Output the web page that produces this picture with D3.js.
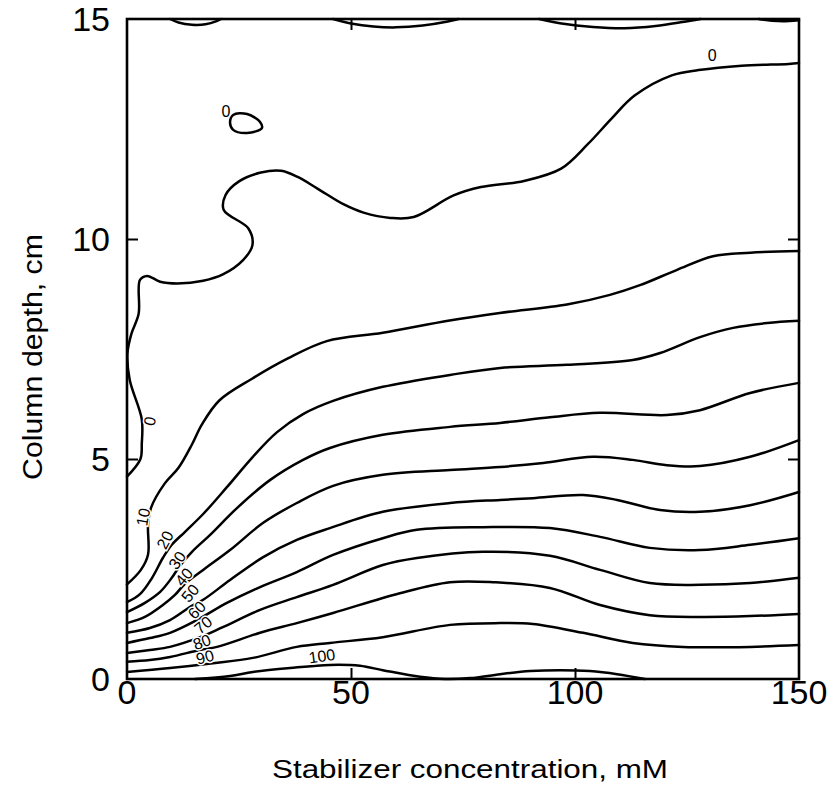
<!DOCTYPE html>
<html>
<head>
<meta charset="utf-8">
<script src="https://cdn.jsdelivr.net/npm/d3@7"></script>
<style>
  html, body { margin: 0; padding: 0; background: #fff; }
  svg { display: block; }
</style>
</head>
<body>
<svg id="chart" width="838" height="788"></svg>
<script>
// ---- Data (x: stabilizer concentration mM, y: column depth cm) ----
const xTicks = [0, 50, 100, 150];
const yTicks = [0, 5, 10, 15];
const xTitle = "Stabilizer concentration, mM";
const yTitle = "Column depth, cm";

const levels = [0, 10, 20, 30, 40, 50, 60, 70, 80, 90, 100];

const c0 = [[0,4.6],[3.0,5.0],[3.3,5.35],[3.3,5.9],[0.6,6.8],[0.1,7.4],[1.0,7.85],[2.6,8.3],[2.9,9.07],[4.5,9.16],[7.4,9.03],[11.2,8.99],[17.0,9.05],[21.5,9.2],[25.9,9.52],[28.0,9.86],[27.1,10.24],[21.6,10.66],[22.0,11.0],[25.0,11.31],[29.9,11.51],[34.4,11.55],[38.1,11.41],[42.6,11.14],[48.3,10.79],[52.8,10.6],[58.8,10.48],[64.0,10.5],[72.9,10.99],[79.0,11.18],[88.6,11.32],[96.9,11.6],[102.9,12.16],[108.1,12.73],[113.3,13.26],[121.6,13.72],[127.6,13.84],[137.2,13.94],[147.7,13.98],[150,14.0]];
const c0island = [[23.7,12.82],[26.8,12.84],[29.7,12.66],[30.1,12.52],[26.8,12.41],[23.7,12.48],[23.0,12.64]];
const c0top1 = [[9.6,15],[11.5,14.92],[14.5,14.87],[17.5,14.88],[20,14.95],[21,15]];
const c0top2 = [[46,15],[50,14.9],[55,14.83],[60,14.81],[66,14.85],[71,14.93],[74,15]];
const c0top3 = [[92,15],[97,14.9],[104,14.82],[111,14.79],[118,14.84],[124,14.93],[128,15]];
const c0top4 = [[141,15],[144,14.96],[147,14.95],[150,14.97]];
const c10 = [[0,2.15],[3.1,2.48],[4.7,2.83],[4.7,3.51],[5.4,3.9],[8.4,4.44],[11.5,4.8],[14.5,5.33],[16.7,5.78],[20.6,6.33],[28.0,6.83],[35.8,7.28],[44.6,7.68],[57.1,7.87],[72.0,8.15],[83.2,8.32],[98.2,8.51],[107.8,8.73],[114.5,8.95],[122.8,9.3],[130.8,9.61],[139.1,9.69],[150,9.73]];
const c20 = [[0,1.75],[2.9,1.93],[5.6,2.30],[8.0,2.75],[10.0,3.05],[12.9,3.34],[17.0,3.75],[22.3,4.36],[28.1,5.05],[33.5,5.61],[39.3,6.02],[46.0,6.32],[57.1,6.64],[72.1,6.91],[83.3,7.07],[98.2,7.14],[112.9,7.25],[119.0,7.41],[127.9,7.77],[135.3,7.98],[142.9,8.09],[150,8.14]];
const c30 = [[0,1.52],[4.0,1.73],[7.4,1.98],[10.0,2.30],[11.8,2.57],[14.5,2.89],[18.5,3.27],[24.6,3.89],[31.9,4.52],[39.3,4.98],[45.3,5.25],[57.1,5.55],[72.1,5.73],[83.3,5.82],[94.4,5.95],[105.6,6.05],[120.5,6.0],[127.9,6.11],[139.1,6.5],[150,6.73]];
const c40 = [[0,1.27],[4.0,1.41],[8.0,1.68],[10.7,1.91],[12.9,2.16],[17.0,2.48],[23.0,2.93],[30.4,3.55],[37.9,4.0],[46.0,4.39],[57.1,4.64],[72.1,4.75],[83.3,4.82],[92.9,4.91],[104.0,5.05],[112.9,4.98],[120.5,4.86],[127.9,4.84],[139.1,5.05],[150,5.43]];
const c50 = [[0,1.05],[5.1,1.16],[9.6,1.34],[14.1,1.64],[17.0,1.80],[23.0,2.25],[30.4,2.77],[37.9,3.16],[45.3,3.43],[57.1,3.80],[72.1,4.0],[83.3,4.07],[90.6,4.11],[101.8,4.18],[109.4,4.07],[119.0,3.84],[127.9,3.80],[139.1,3.95],[150,4.25]];
const c60 = [[0,0.82],[5.1,0.93],[9.6,1.05],[15.6,1.34],[22.3,1.73],[29.7,2.09],[37.9,2.43],[46.0,2.82],[57.1,3.20],[64.7,3.39],[79.5,3.45],[94.4,3.43],[105.6,3.23],[116.7,2.98],[127.9,2.93],[139.1,3.05],[150,3.20]];
const c70 = [[0,0.59],[5.1,0.66],[9.6,0.73],[16.3,0.95],[21.4,1.18],[29.7,1.57],[37.9,1.86],[46.0,2.14],[57.1,2.59],[64.7,2.75],[79.5,2.89],[94.4,2.80],[105.6,2.48],[116.7,2.18],[127.9,2.14],[139.1,2.18],[150,2.30]];
const c80 = [[0,0.39],[5.1,0.43],[9.6,0.50],[16.3,0.66],[20.1,0.73],[29.7,1.05],[37.9,1.27],[46.0,1.50],[60.9,1.95],[72.1,2.20],[81.7,2.20],[94.4,2.07],[105.6,1.68],[116.7,1.45],[127.9,1.41],[139.1,1.43],[150,1.48]];
const c90 = [[0,0.16],[9.6,0.25],[19.2,0.36],[28.1,0.48],[37.9,0.73],[45.3,0.82],[57.1,0.95],[72.1,1.23],[83.3,1.27],[90.6,1.25],[101.8,1.05],[112.9,0.82],[124.1,0.73],[139.1,0.73],[150,0.77]];
const c100 = [[15.2,0],[23.0,0.07],[28.1,0.16],[36.4,0.25],[45.3,0.32],[52.0,0.30],[57.1,0.20],[65.4,0.05],[71.0,0],[76.6,0.02],[83.3,0.11],[90.0,0.18],[96.7,0.20],[103.3,0.18],[109.4,0.11],[115.6,0]];

const openContours = [c0, c0top1, c0top2, c0top3, c0top4, c10, c20, c30, c40, c50, c60, c70, c80, c90, c100];
const closedContours = [c0island];

// contour labels
const labelX = [5.1, 22.1, 130.6, 3.6, 8.5, 11.2, 12.7, 14.1, 15.6, 17.0, 16.7, 17.4, 43.5];
const labelY = [5.86, 12.89, 14.18, 3.68, 3.16, 2.70, 2.32, 1.95, 1.57, 1.23, 0.84, 0.50, 0.52];
const labelText = ["0", "0", "0", "10", "20", "30", "40", "50", "60", "70", "80", "90", "100"];
const labelRot = [-80, 0, 0, -80, -62, -55, -50, -50, -45, -40, -20, -15, -8];

// ---- Layout ----
const svg = d3.select("#chart");
const pL = 127, pR = 799, pT = 19, pB = 679;
const x = d3.scaleLinear().domain([0, 150]).range([pL, pR]);
const y = d3.scaleLinear().domain([0, 15]).range([pB, pT]);
const fontMain = "'Liberation Sans', Arial, sans-serif";

const line = d3.line().x(d => x(d[0])).y(d => y(d[1])).curve(d3.curveCatmullRom.alpha(0.5));
const lineClosed = d3.line().x(d => x(d[0])).y(d => y(d[1])).curve(d3.curveCatmullRomClosed.alpha(0.5));

const g = svg.append("g");

g.selectAll("path.contour").data(openContours).join("path")
  .attr("class", "contour")
  .attr("d", line)
  .attr("fill", "none").attr("stroke", "#000").attr("stroke-width", 2.5)
  .attr("stroke-linejoin", "round").attr("stroke-linecap", "round");

g.selectAll("path.closed").data(closedContours).join("path")
  .attr("class", "closed")
  .attr("d", lineClosed)
  .attr("fill", "none").attr("stroke", "#000").attr("stroke-width", 2.5);

g.selectAll("text.clabel").data(labelText).join("text")
  .attr("class", "clabel")
  .attr("transform", (d, i) => `translate(${x(labelX[i])},${y(labelY[i])}) rotate(${labelRot[i]})`)
  .attr("text-anchor", "middle").attr("dy", "0.35em")
  .attr("font-family", fontMain).attr("font-size", 16)
  .attr("stroke", "#fff").attr("stroke-width", 3).attr("paint-order", "stroke")
  .attr("fill", "#000")
  .text(d => d);

g.append("rect").attr("x", pL).attr("y", pT)
  .attr("width", pR - pL).attr("height", pB - pT)
  .attr("fill", "none").attr("stroke", "#000").attr("stroke-width", 2.6);

const tickLen = 11;
const innerX = xTicks.filter(v => v > 0 && v < 150);
const innerY = yTicks.filter(v => v > 0 && v < 15);
g.append("g").call(d3.axisBottom(x).tickValues(innerX).tickSize(-tickLen).tickFormat(""))
  .attr("transform", `translate(0,${pB})`);
g.append("g").call(d3.axisTop(x).tickValues(innerX).tickSize(-tickLen).tickFormat(""))
  .attr("transform", `translate(0,${pT})`);
g.append("g").call(d3.axisLeft(y).tickValues(innerY).tickSize(-tickLen).tickFormat(""))
  .attr("transform", `translate(${pL},0)`);
g.append("g").call(d3.axisRight(y).tickValues(innerY).tickSize(-tickLen).tickFormat(""))
  .attr("transform", `translate(${pR},0)`);
g.selectAll(".domain").remove();
g.selectAll(".tick line").attr("stroke", "#000").attr("stroke-width", 2);

g.selectAll("text.xt").data(xTicks).join("text").attr("class", "xt")
  .attr("x", d => x(d)).attr("y", pB + 25)
  .attr("text-anchor", "middle")
  .attr("font-family", fontMain).attr("font-size", 34).attr("fill", "#000")
  .text(d => d);
g.selectAll("text.yt").data(yTicks).join("text").attr("class", "yt")
  .attr("x", pL - 17).attr("y", d => y(d) + 12)
  .attr("text-anchor", "end")
  .attr("font-family", fontMain).attr("font-size", 34).attr("fill", "#000")
  .text(d => d);

g.append("text").attr("x", 470).attr("y", 778).attr("text-anchor", "middle")
  .attr("font-family", fontMain).attr("font-size", 25).attr("fill", "#000")
  .attr("textLength", 396).attr("lengthAdjust", "spacingAndGlyphs")
  .text(xTitle);
g.append("text").attr("transform", "translate(42,357) rotate(-90)").attr("text-anchor", "middle")
  .attr("font-family", fontMain).attr("font-size", 27).attr("fill", "#000")
  .attr("textLength", 246).attr("lengthAdjust", "spacingAndGlyphs")
  .text(yTitle);
</script>
</body>
</html>
